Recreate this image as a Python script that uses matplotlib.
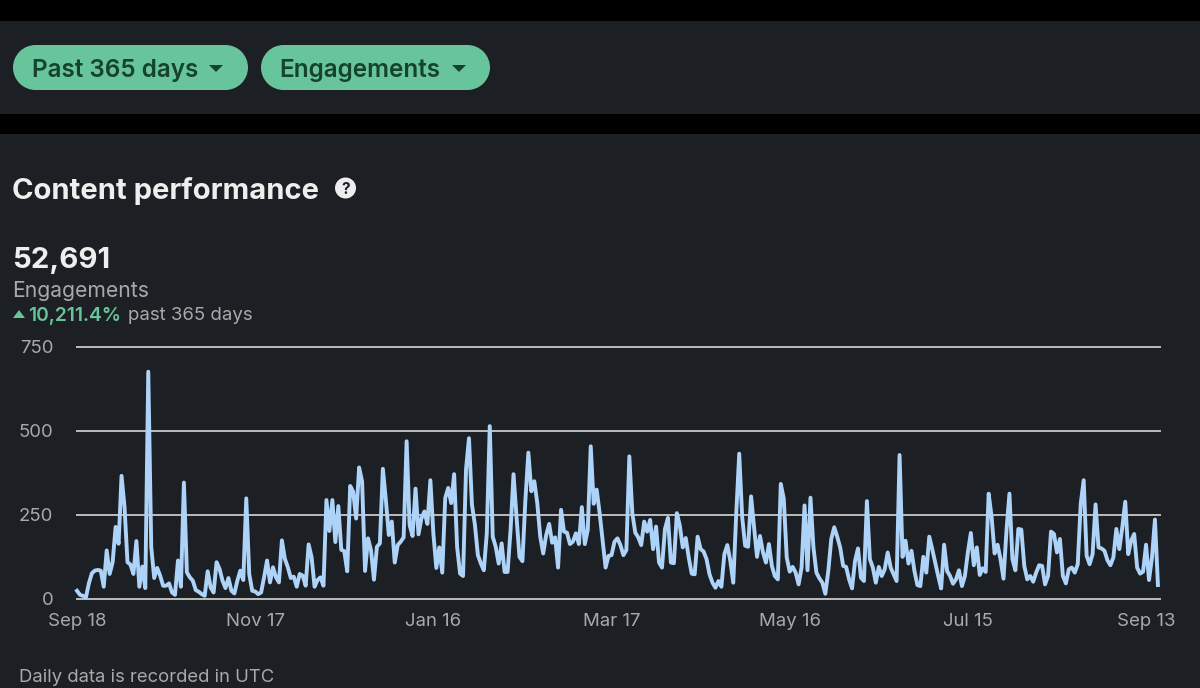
import matplotlib
matplotlib.use("Agg")
import matplotlib.pyplot as plt
from matplotlib.patches import Rectangle, Polygon, Circle

plt.rcParams['font.family'] = ['Inter', 'DejaVu Sans']

engagements = [
 23,11,8,3,45,75,83,85,83,35,143,73,108,213,163,365,273,108,101,73,171,35,95,31,675,153,61,91,68,38,38,45,18,11,113,35,345,78,63,53,25,20,13,8,81,33,18,108,88,53,31,61,23,15,53,83,55,298,73,23,21,13,18,63,113,48,93,63,48,173,118,93,61,65,35,73,68,38,161,123,35,55,63,38,293,201,293,168,275,145,141,81,335,318,238,390,
 349,82,179,144,56,154,164,386,294,189,229,107,159,169,182,468,219,186,327,191,239,259,222,352,194,91,152,77,299,329,284,370,154,74,67,384,477,279,219,129,104,84,194,513,184,154,104,164,79,79,204,370,244,124,111,294,434,319,349,284,184,134,189,222,166,182,92,264,199,196,162,169,194,162,272,162,204,453,282,324,254,174,92,127,129,169,179,159,129,144,423,254,196,182,159,229,199,
 234,147,214,107,92,207,240,107,105,254,217,152,180,122,74,72,184,147,140,117,72,47,32,52,35,132,159,112,47,252,431,242,157,154,304,212,124,186,137,107,162,97,67,57,341,297,122,80,94,77,42,92,277,84,300,152,77,60,47,14,82,177,212,184,152,97,94,57,30,112,149,62,52,290,117,92,47,94,67,87,137,92,72,52,427,124,172,104,142,82,40,
 37,124,77,184,147,107,67,30,160,82,67,44,57,84,37,67,137,195,99,152,70,90,79,312,242,134,160,117,59,202,312,117,84,207,205,97,57,67,50,77,99,97,42,67,199,192,137,177,67,45,87,92,77,102,282,352,127,102,132,280,152,149,142,114,99,122,207,147,212,288,132,172,192,92,74,80,160,55,122,235,40,
]
tick_days = [0, 60, 120, 180, 240, 300, 360]
tick_labels = ["Sep 18", "Nov 17", "Jan 16", "Mar 17", "May 16", "Jul 15", "Sep 13"]
y_ticks = [0, 250, 500, 750]

PANEL = "#1c1f23"
GREEN = "#68c49b"
DARK = "#15432e"
WHITE = "#eeeeee"
GREY = "#a9a9a9"

fig = plt.figure(figsize=(12, 6.88), dpi=100, facecolor="black")
bg = fig.add_axes([0, 0, 1, 1])
bg.set_xlim(0, 1200); bg.set_ylim(688, 0); bg.axis("off")
bg.add_patch(Rectangle((0, 21), 1200, 93, fc=PANEL, ec="none"))
bg.add_patch(Rectangle((0, 134), 1200, 554, fc=PANEL, ec="none"))

for x0, x1, label, tx, ax0 in [(13, 248, "Past 365 days", 32, 209), (261, 490, "Engagements", 279, 452)]:
    r = 22.5
    bg.add_patch(Rectangle((x0 + r, 45), x1 - x0 - 2 * r, 2 * r, fc=GREEN, ec="none"))
    bg.add_patch(Circle((x0 + r, 45 + r), r, fc=GREEN, ec="none"))
    bg.add_patch(Circle((x1 - r, 45 + r), r, fc=GREEN, ec="none"))
    bg.text(tx, 68, label, color=DARK, fontsize=17.5, fontweight="semibold", va="center_baseline", ha="left")
    bg.add_patch(Polygon([(ax0, 65), (ax0 + 14, 65), (ax0 + 7, 72)], fc=DARK, ec="none"))

bg.text(12, 188, "Content performance", color=WHITE, fontsize=21, fontweight="bold", va="center_baseline")
bg.add_patch(Circle((345.5, 188), 10.5, fc=WHITE, ec="none"))
bg.text(345.5, 188, "?", color=PANEL, fontsize=11, fontweight="bold", ha="center", va="center_baseline")
bg.text(12, 258, "52,691", color=WHITE, fontsize=21.2, fontweight="bold", va="center_baseline")
bg.text(12, 289, "Engagements", color=GREY, fontsize=15.2, va="center_baseline")
bg.add_patch(Polygon([(13, 318), (25, 318), (19, 310)], fc=GREEN, ec="none"))
bg.text(28, 314, "10,211.4%", color=GREEN, fontsize=13.8, fontweight="semibold", va="center_baseline")
bg.text(128, 314, "past 365 days", color=GREY, fontsize=13.4, va="center_baseline")
bg.text(19, 676, "Daily data is recorded in UTC", color=GREY, fontsize=13.3, va="center_baseline")

L, R, B, T = 77, 1160, 598.5, 346.5
ax = fig.add_axes([L / 1200, 1 - B / 688, (R - L) / 1200, (B - T) / 688], facecolor="none")
ax.set_xlim(0, 364.7)
ax.set_ylim(0, 750)
ax.plot(range(len(engagements)), engagements, color="#aed3f8", lw=2.8, solid_joinstyle="round", zorder=3, clip_on=False)
ax.set_yticks(y_ticks)
ax.set_xticks(tick_days)
ax.set_xticklabels(tick_labels)
ax.grid(axis="y", color="#bdbdbd", lw=1.4, zorder=1)
ax.set_axisbelow(True)
ax.tick_params(length=0, colors=GREY, labelsize=13.4)
ax.tick_params(axis="y", pad=17)
ax.tick_params(axis="x", pad=10.5)
for s in ax.spines.values():
    s.set_visible(False)
for g in ax.get_ygridlines():
    g.set_clip_on(False)
fig.savefig("out.png", dpi=100, facecolor=fig.get_facecolor())
